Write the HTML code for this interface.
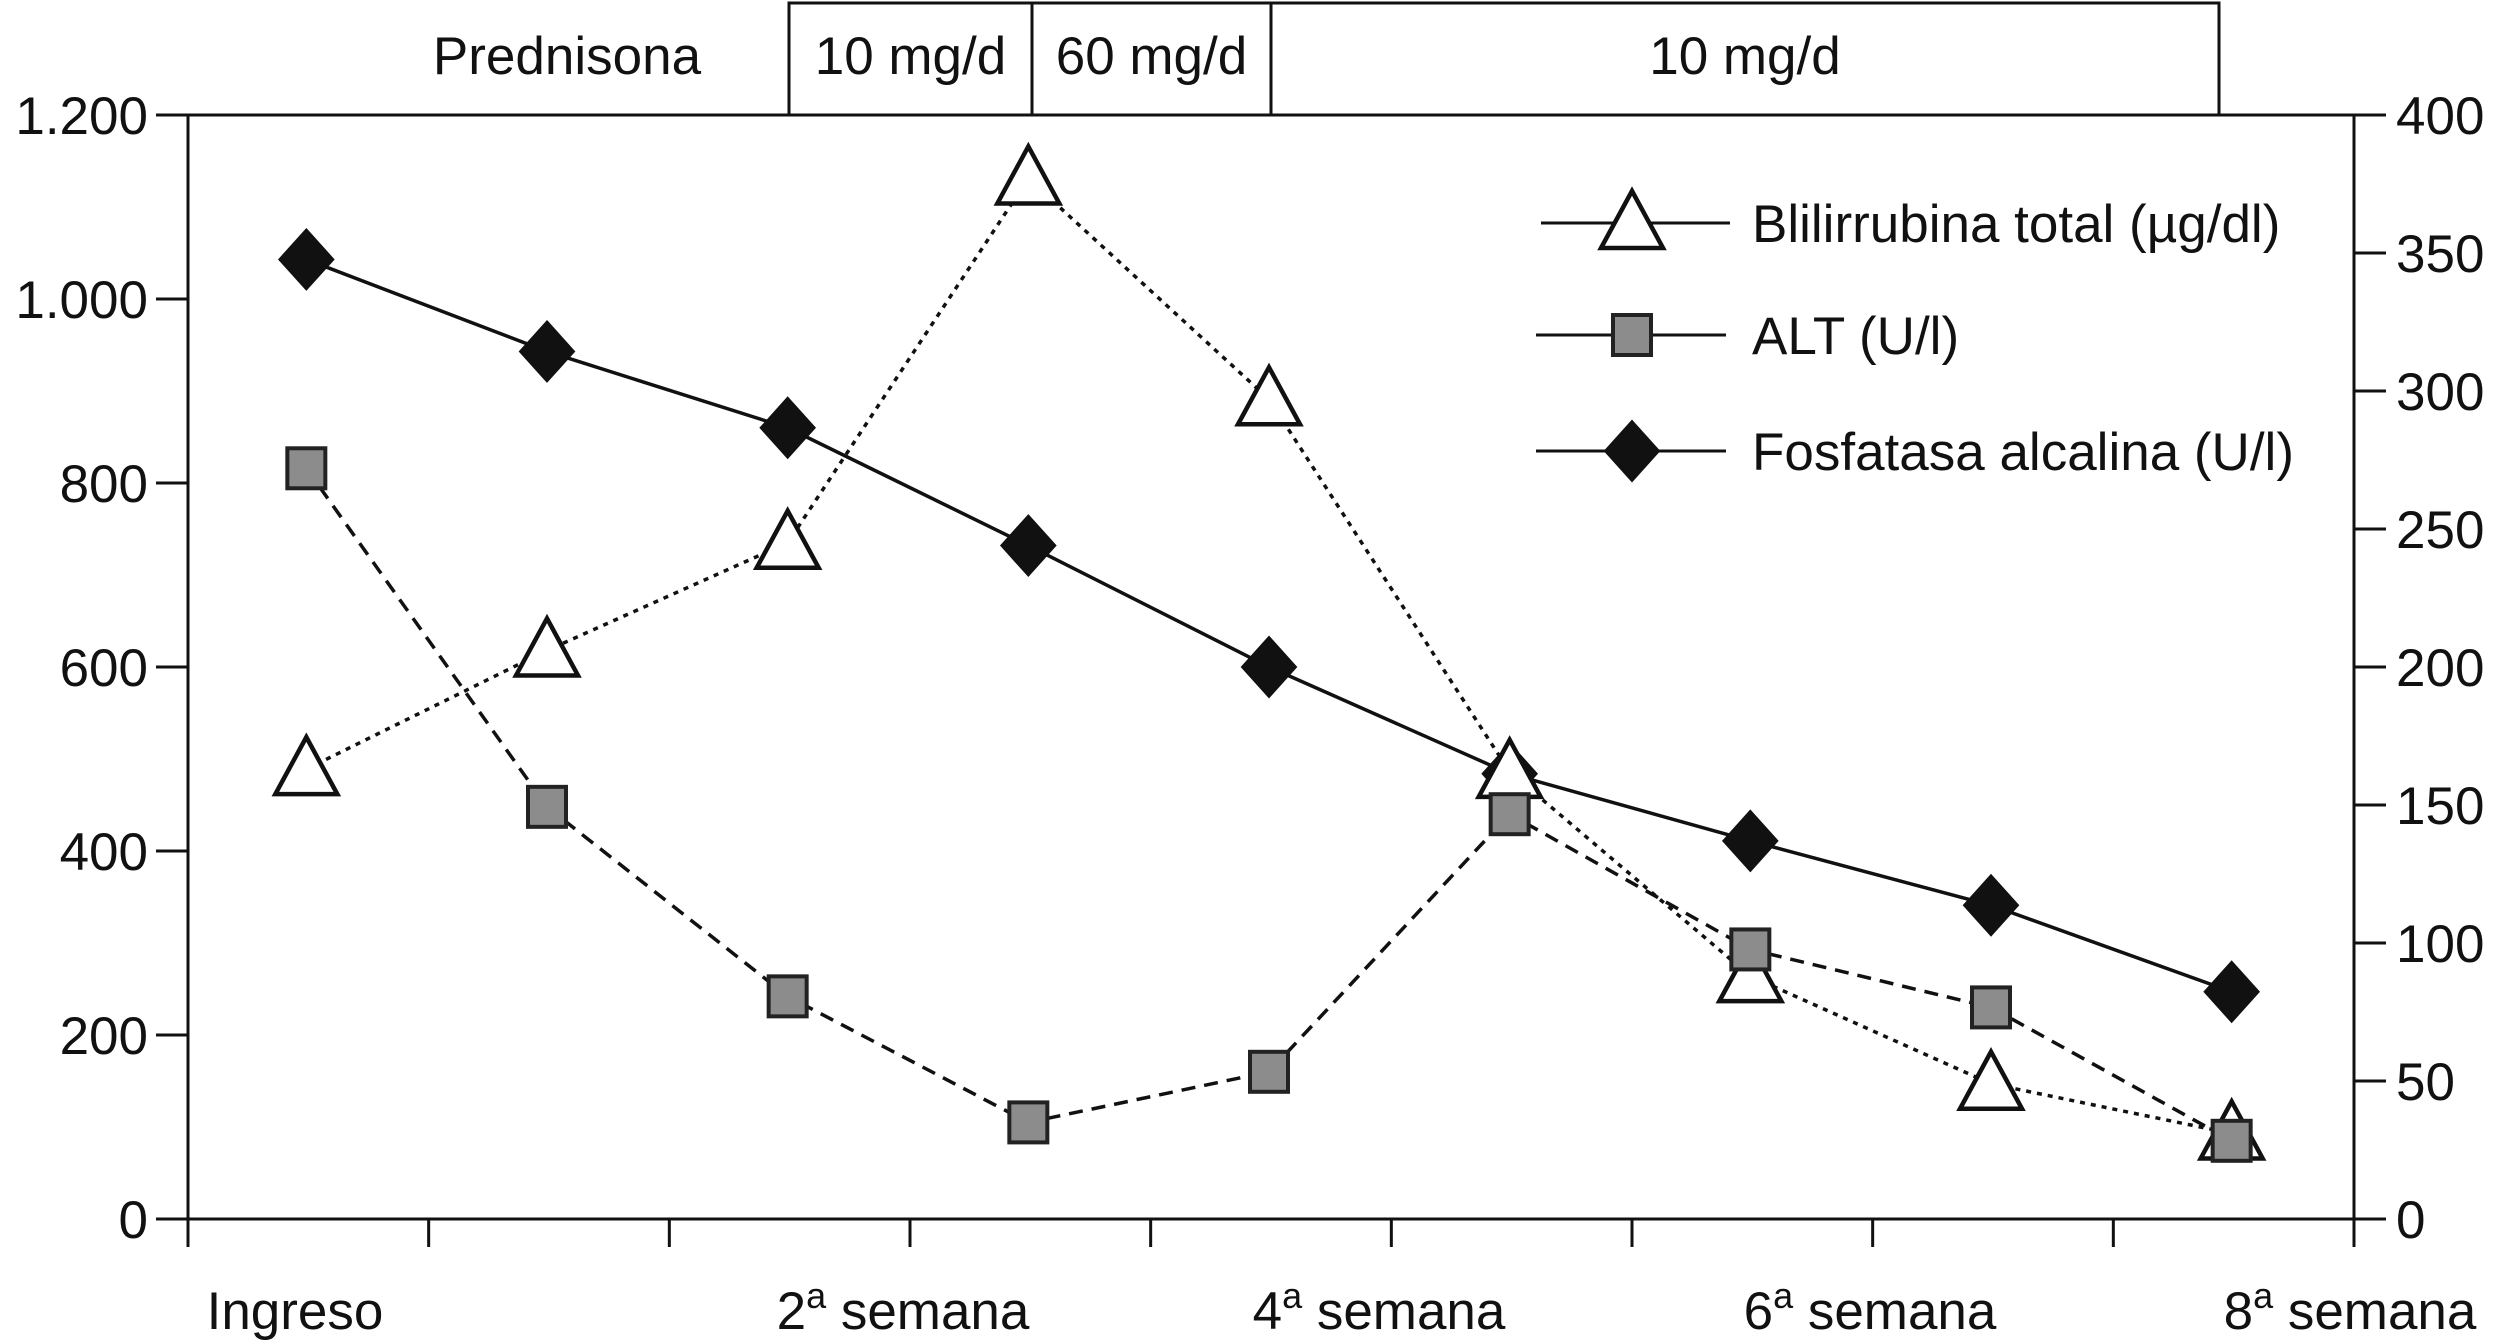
<!DOCTYPE html>
<html><head><meta charset="utf-8"><style>
html,body{margin:0;padding:0;background:#fff;}
svg{display:block;}
text{font-family:"Liberation Sans",sans-serif;fill:#111;}
</style></head><body>
<svg id="chart" width="2498" height="1344" viewBox="0 0 2498 1344" xmlns="http://www.w3.org/2000/svg">
<g id="topbox"></g>
<g id="axes"></g>
<g id="series"></g>
<g id="legend"></g>
</svg>
<script>
const categories = ["Ingreso","","2ª semana","","4ª semana","","6ª semana","","8ª semana"];
const fosfatasa = [1043, 943, 860, 732, 600, 484, 411, 341, 247];
const alt = [816, 448, 242, 105, 160, 440, 293, 230, 85];
const bilirrubina = [163, 206, 245, 377, 297, 162, 88, 49, 31];
const leftTicks = [0, 200, 400, 600, 800, 1000, 1200];
const leftTickLabels = ["0","200","400","600","800","1.000","1.200"];
const rightTicks = [0, 50, 100, 150, 200, 250, 300, 350, 400];
const xLabels = [
  {base:"Ingreso", sup:"", rest:"", x:295},
  {base:"2", sup:"a", rest:" semana", x:903},
  {base:"4", sup:"a", rest:" semana", x:1379},
  {base:"6", sup:"a", rest:" semana", x:1870},
  {base:"8", sup:"a", rest:" semana", x:2350}
];
const doses = [{label:"10 mg/d", x0:789, x1:1032},{label:"60 mg/d", x0:1032, x1:1271},{label:"10 mg/d", x0:1271, x1:2219}];

const NS="http://www.w3.org/2000/svg";
const FS=53;
const L=188, R=2354, T=115, B=1219;
const n=categories.length;
const step=(R-L)/n;
function xPos(i){return L+(i+0.5)*step-2;}
function yL(v){return B-v/1200*(B-T);}
function yR(v){return B-v/400*(B-T);}
function mk(tag, attrs, parent){const e=document.createElementNS(NS,tag);for(const k in attrs)e.setAttribute(k,attrs[k]);parent.appendChild(e);return e;}

const topG=document.getElementById('topbox');
let p=mk('path',{d:`M789 ${T} V3 H2219 V${T}`,fill:'none',stroke:'#111','stroke-width':3},topG);


let t=mk('text',{x:567,y:74,'font-size':FS,'text-anchor':'middle'},topG);t.textContent='Prednisona';


doses.forEach((d,i)=>{
  if(i>0){let l=mk('line',{x1:d.x0,y1:3,x2:d.x0,y2:T,stroke:'#111','stroke-width':3},topG);
    
    }
  let tt=mk('text',{x:(d.x0+d.x1)/2,y:74,'font-size':FS,'text-anchor':'middle'},topG);tt.textContent=d.label;
  
  
});

const ax=document.getElementById('axes');
let a=mk('path',{d:`M${L} ${T} V${B} H${R} V${T} H${L}`,fill:'none',stroke:'#111','stroke-width':3},ax);


leftTicks.forEach((v,i)=>{
  let l=mk('line',{x1:L-32,y1:yL(v),x2:L,y2:yL(v),stroke:'#111','stroke-width':3},ax);
  
  
  let tx=mk('text',{x:L-10-conv(i),y:yL(v)+19,'font-size':FS,'text-anchor':'end'},ax);tx.textContent=leftTickLabels[i];
  
  
});
function conv(i){return 30;}
rightTicks.forEach(v=>{
  let l=mk('line',{x1:R,y1:yR(v),x2:R+32,y2:yR(v),stroke:'#111','stroke-width':3},ax);
  
  
  let tx=mk('text',{x:R+42,y:yR(v)+19,'font-size':FS},ax);tx.textContent=String(v);
  
  
});
for(let i=0;i<=n;i++){
  let l=mk('line',{x1:L+i*step,y1:B,x2:L+i*step,y2:B+28,stroke:'#111','stroke-width':3},ax);
  
  
}
xLabels.forEach(d=>{
  let tx=mk('text',{x:d.x,y:1329,'font-size':FS,'text-anchor':'middle'},ax);
  
  
  let s1=mk('tspan',{},tx);s1.textContent=d.base;
  if(d.sup){let s2=mk('tspan',{dy:-21,'font-size':36},tx);s2.textContent=d.sup;
    let s3=mk('tspan',{dy:21},tx);s3.textContent=d.rest;}
});

function diamond(g,x,y){let e=mk('path',{d:`M${x} ${y-30} L${x+27} ${y} L${x} ${y+30} L${x-27} ${y} Z`,fill:'#111',stroke:'#111','stroke-width':2},g);return e;}
function square(g,x,y){let e=mk('rect',{x:x-19,y:y-20,width:38,height:40,fill:'#8c8c8c',stroke:'#222','stroke-width':4},g);return e;}
function tri(g,x,y){let e=mk('path',{d:`M${x} ${y-32} L${x+31} ${y+25} L${x-31} ${y+25} Z`,fill:'#fff',stroke:'#111','stroke-width':4.5,'stroke-linejoin':'miter'},g);return e;}

const sg=document.getElementById('series');
function series(vals,yf,dash,name,markerFn){
  const g=mk('g',{},sg);
  
  
  let d=vals.map((v,i)=>(i?'L':'M')+xPos(i)+' '+yf(v)).join(' ');
  let pl=mk('path',{d:d,fill:'none',stroke:'#111','stroke-width':3.5,'stroke-dasharray':dash},g);
  
  
  vals.forEach((v,i)=>{let m=markerFn(g,xPos(i),yf(v));
    
    });
}
series(fosfatasa,yL,'none','fosfatasa',diamond);
series(bilirrubina,yR,'5 6','bilirrubina',tri);
series(alt,yL,'14 9','alt',square);

const lg=document.getElementById('legend');
const legendItems=[{label:'Blilirrubina total (µg/dl)',y:223,f:tri,x0:1541,x1:1730},{label:'ALT (U/l)',y:335,f:square,x0:1536,x1:1726},{label:'Fosfatasa alcalina (U/l)',y:451,f:diamond,x0:1536,x1:1726}];
legendItems.forEach(it=>{
  const g=mk('g',{},lg);
  
  
  mk('line',{x1:it.x0,y1:it.y,x2:it.x1,y2:it.y,stroke:'#111','stroke-width':3},g);
  it.f(g,1632,it.y);
  let tx=mk('text',{x:1752,y:it.y+19,'font-size':FS},g);tx.textContent=it.label;
});
</script>
</body></html>
